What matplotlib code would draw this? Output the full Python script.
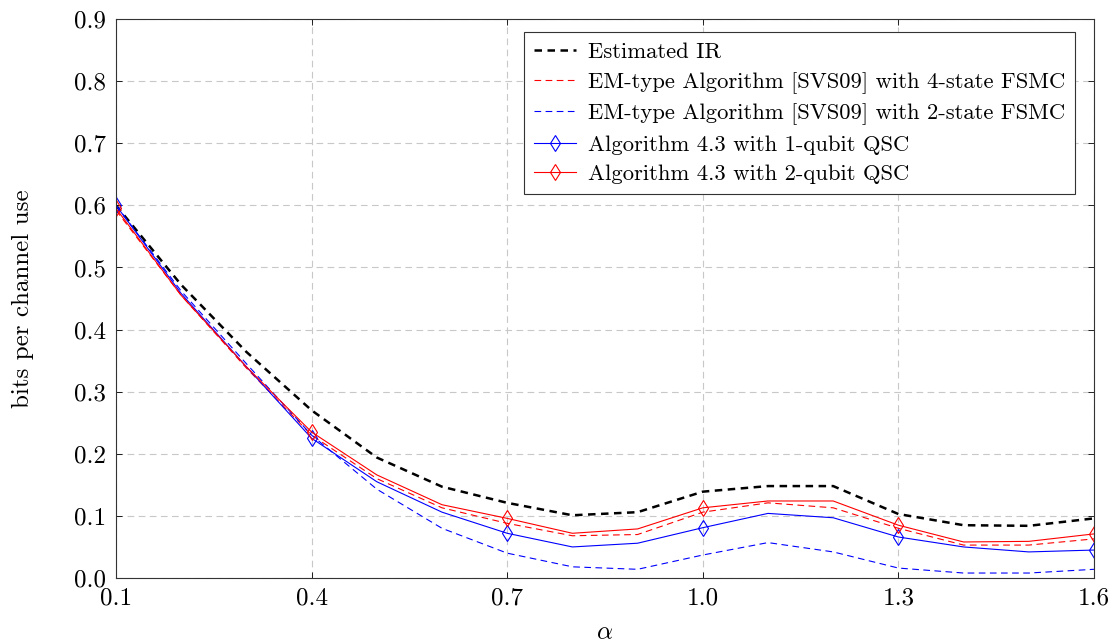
import numpy as np
import matplotlib
matplotlib.use('Agg')
import matplotlib.pyplot as plt

plt.rcParams['font.family'] = 'serif'
plt.rcParams['font.serif'] = ['cmr10', 'DejaVu Serif']
plt.rcParams['mathtext.fontset'] = 'cm'
plt.rcParams['axes.formatter.use_mathtext'] = True

alpha = [0.1, 0.2, 0.3, 0.4, 0.5, 0.6, 0.7, 0.8, 0.9, 1.0, 1.1, 1.2, 1.3, 1.4, 1.5, 1.6]

est_ir = [0.600, 0.472, 0.364, 0.270, 0.194, 0.147, 0.121, 0.101, 0.106, 0.139,
          0.148, 0.148, 0.103, 0.085, 0.084, 0.096]
em_4state = [0.592, 0.455, 0.338, 0.230, 0.160, 0.113, 0.088, 0.068, 0.070, 0.106,
             0.121, 0.113, 0.080, 0.053, 0.053, 0.063]
em_2state = [0.600, 0.462, 0.345, 0.230, 0.143, 0.080, 0.040, 0.018, 0.014, 0.037,
             0.057, 0.042, 0.016, 0.008, 0.008, 0.014]
alg_1qubit = [0.600, 0.458, 0.340, 0.225, 0.155, 0.106, 0.072, 0.050, 0.056, 0.081,
              0.104, 0.097, 0.066, 0.050, 0.042, 0.045]
alg_2qubit = [0.595, 0.455, 0.340, 0.235, 0.166, 0.118, 0.096, 0.072, 0.079, 0.113,
              0.124, 0.124, 0.085, 0.058, 0.059, 0.071]

xticks = [0.1, 0.4, 0.7, 1.0, 1.3, 1.6]
yticks = [0.0, 0.1, 0.2, 0.3, 0.4, 0.5, 0.6, 0.7, 0.8, 0.9]

fig = plt.figure(figsize=(11.19, 6.43), dpi=100)
ax = fig.add_axes([116/1119, 1 - 578/643, (1094 - 116)/1119, (578 - 19)/643])

ax.plot(alpha, est_ir, '--', color='black', lw=1.8, dashes=(3, 2.2),
        label='Estimated IR')
ax.plot(alpha, em_4state, '--', color='red', lw=0.8, dashes=(6, 4),
        label='EM-type Algorithm [SVS09] with 4-state FSMC')
ax.plot(alpha, em_2state, '--', color='blue', lw=0.8, dashes=(6, 4),
        label='EM-type Algorithm [SVS09] with 2-state FSMC')
ax.plot(alpha, alg_1qubit, '-', color='blue', lw=0.8, marker='d', ms=7.8,
        mfc='none', mew=0.8, markevery=3, label='Algorithm 4.3 with 1-qubit QSC')
ax.plot(alpha, alg_2qubit, '-', color='red', lw=0.8, marker='d', ms=7.8,
        mfc='none', mew=0.8, markevery=3, label='Algorithm 4.3 with 2-qubit QSC')

ax.set_xlim(0.1, 1.6)
ax.set_ylim(0.0, 0.9)
ax.set_xticks(xticks)
ax.set_xticklabels(['{:.1f}'.format(v) for v in xticks])
ax.set_yticks(yticks)
ax.set_yticklabels(['{:.1f}'.format(v) for v in yticks])
ax.tick_params(direction='in', top=True, right=True, labelsize=18, length=4,
               width=0.6, pad=7)
ax.grid(True, linestyle=(0, (6, 4)), color='#c8c8c8', lw=0.8)
for s in ax.spines.values():
    s.set_linewidth(0.8)
    s.set_color('#333333')

ax.set_xlabel(r'$\alpha$', fontsize=18)
ax.xaxis.set_label_coords(0.5, -0.078)
ax.set_ylabel('bits per channel use', fontsize=18)
ax.yaxis.set_label_coords(-0.084, 0.5)

leg = ax.legend(loc='upper right', bbox_to_anchor=(0.9806, 0.9767),
                borderaxespad=0, fontsize=16.3, fancybox=False, framealpha=1,
                edgecolor='#333333', handlelength=1.85, borderpad=0.45,
                labelspacing=0.43, handletextpad=0.5)
leg.get_frame().set_linewidth(0.8)

fig.savefig('out.png', dpi=100)
